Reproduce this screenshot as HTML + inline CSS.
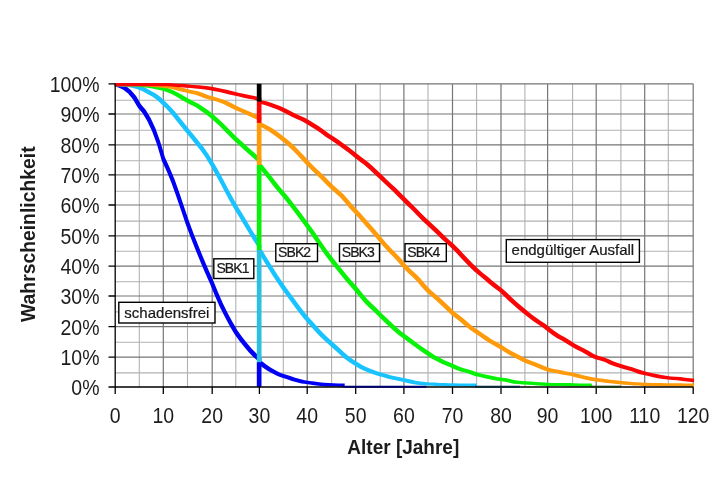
<!DOCTYPE html>
<html><head><meta charset="utf-8"><title>Wahrscheinlichkeit / Alter</title>
<style>
html,body{margin:0;padding:0;background:#fff;}
body{width:720px;height:480px;overflow:hidden;}
svg{display:block;}
svg{will-change:transform;transform:translateZ(0);}
text{font-family:"Liberation Sans",sans-serif;fill:#1c1c1c;}
</style></head><body>
<svg width="720" height="480" viewBox="0 0 720 480">
<rect width="720" height="480" fill="#fff"/>
<defs><clipPath id="cp"><rect x="114.8" y="78" width="579.3" height="314"/></clipPath></defs>
<path d="M139.3 83.8V387.0M187.5 83.8V387.0M235.8 83.8V387.0M283.3 83.8V387.0M331.6 83.8V387.0M380.2 83.8V387.0M428.0 83.8V387.0M476.6 83.8V387.0M524.9 83.8V387.0M572.6 83.8V387.0M620.9 83.8V387.0M668.3 83.8V387.0M115.2 372.9H693.3M115.2 342.3H693.3M115.2 311.9H693.3M115.2 281.8H693.3M115.2 251.2H693.3M115.2 221.1H693.3M115.2 191.2H693.3M115.2 160.8H693.3M115.2 130.3H693.3M115.2 100.2H693.3" stroke="#b2b2b2" stroke-width="1.1" fill="none"/>
<path d="M163.3 83.8V387.0M212.2 83.8V387.0M259.4 83.8V387.0M307.2 83.8V387.0M355.7 83.8V387.0M403.9 83.8V387.0M452.5 83.8V387.0M501.0 83.8V387.0M547.6 83.8V387.0M596.2 83.8V387.0M644.7 83.8V387.0M693.2 83.8V387.0M115.2 357.2H693.3M115.2 326.7H693.3M115.2 296.0H693.3M115.2 266.1H693.3M115.2 235.8H693.3M115.2 205.0H693.3M115.2 174.9H693.3M115.2 144.8H693.3M115.2 114.0H693.3M115.2 83.8H693.3" stroke="#767676" stroke-width="1.2" fill="none"/>
<path d="M113.7 83.0 116.8 83.0 121.7 84.2 121.7 87.5 118.5 87.5 113.7 86.2ZM118.5 84.2 121.7 84.2 126.5 86.5 126.5 89.7 123.3 89.7 118.5 87.5ZM123.3 86.5 126.5 86.5 131.3 90.4 131.3 93.6 128.1 93.6 123.3 89.7ZM128.1 90.4 131.3 90.4 136.1 96.0 136.1 99.2 132.9 99.2 128.1 93.6ZM132.9 96.0 136.1 96.0 140.9 104.2 140.9 107.5 137.7 107.5 132.9 99.2ZM137.7 104.2 140.9 104.2 145.8 110.0 145.8 113.2 142.6 113.2 137.7 107.5ZM142.6 110.0 145.8 110.0 150.6 118.0 150.6 121.2 147.4 121.2 142.6 113.2ZM147.4 118.0 150.6 118.0 155.4 128.3 155.4 131.5 152.2 131.5 147.4 121.2ZM152.2 128.3 155.4 128.3 160.2 141.4 160.2 144.6 157.0 144.6 152.2 131.5ZM157.0 141.4 160.2 141.4 165.0 157.5 165.0 160.7 161.8 160.7 157.0 144.6ZM161.8 157.5 165.0 157.5 169.8 167.9 169.8 171.1 166.6 171.1 161.8 160.7ZM166.6 167.9 169.8 167.9 174.7 179.8 174.7 183.0 171.5 183.0 166.6 171.1ZM171.5 179.8 174.7 179.8 179.5 193.2 179.5 196.4 176.3 196.4 171.5 183.0ZM176.3 193.2 179.5 193.2 184.3 207.4 184.3 210.6 181.1 210.6 176.3 196.4ZM181.1 207.4 184.3 207.4 189.1 221.5 189.1 224.7 185.9 224.7 181.1 210.6ZM185.9 221.5 189.1 221.5 193.9 234.4 193.9 237.6 190.7 237.6 185.9 224.7ZM190.7 234.4 193.9 234.4 198.7 246.6 198.7 249.8 195.5 249.8 190.7 237.6ZM195.5 246.6 198.7 246.6 203.6 258.6 203.6 261.8 200.4 261.8 195.5 249.8ZM200.4 258.6 203.6 258.6 208.4 269.8 208.4 273.0 205.2 273.0 200.4 261.8ZM205.2 269.8 208.4 269.8 213.2 280.5 213.2 283.7 210.0 283.7 205.2 273.0ZM210.0 280.5 213.2 280.5 218.0 292.3 218.0 295.5 214.8 295.5 210.0 283.7ZM214.8 292.3 218.0 292.3 222.8 303.2 222.8 306.4 219.6 306.4 214.8 295.5ZM219.6 303.2 222.8 303.2 227.6 312.9 227.6 316.1 224.4 316.1 219.6 306.4ZM224.4 312.9 227.6 312.9 232.5 322.1 232.5 325.3 229.3 325.3 224.4 316.1ZM229.3 322.1 232.5 322.1 237.3 330.3 237.3 333.5 234.1 333.5 229.3 325.3ZM234.1 330.3 237.3 330.3 242.1 337.0 242.1 340.2 238.9 340.2 234.1 333.5ZM238.9 337.0 242.1 337.0 246.9 343.1 246.9 346.3 243.7 346.3 238.9 340.2ZM243.7 343.1 246.9 343.1 251.7 348.7 251.7 351.9 248.5 351.9 243.7 346.3ZM248.5 348.7 251.7 348.7 256.6 353.7 256.6 356.9 253.3 356.9 248.5 351.9ZM253.3 353.7 256.6 353.7 261.4 358.0 261.4 361.2 258.2 361.2 253.3 356.9ZM258.2 360.8 261.4 360.8 266.2 364.5 266.2 367.7 263.0 367.7 258.2 364.0ZM263.0 364.5 266.2 364.5 271.0 367.7 271.0 370.9 267.8 370.9 263.0 367.7ZM267.8 367.7 271.0 367.7 275.8 370.4 275.8 373.6 272.6 373.6 267.8 370.9ZM272.6 370.4 275.8 370.4 280.6 372.9 280.6 376.1 277.4 376.1 272.6 373.6ZM277.4 372.9 280.6 372.9 285.4 374.6 285.4 377.8 282.2 377.8 277.4 376.1ZM282.2 374.6 285.4 374.6 290.3 376.0 290.3 379.2 287.1 379.2 282.2 377.8ZM287.1 376.0 290.3 376.0 295.1 377.7 295.1 380.9 291.9 380.9 287.1 379.2ZM291.9 377.7 295.1 377.7 299.9 379.1 299.9 382.3 296.7 382.3 291.9 380.9ZM296.7 379.1 299.9 379.1 304.7 380.2 304.7 383.4 301.5 383.4 296.7 382.3ZM301.5 380.2 304.7 380.2 309.5 380.9 309.5 384.1 306.3 384.1 301.5 383.4ZM306.3 380.9 309.5 380.9 314.4 381.6 314.4 384.8 311.1 384.8 306.3 384.1ZM311.1 381.6 314.4 381.6 319.2 382.2 319.2 385.4 316.0 385.4 311.1 384.8ZM316.0 382.2 319.2 382.2 324.0 382.8 324.0 386.0 320.8 386.0 316.0 385.4ZM320.8 382.8 324.0 382.8 328.8 383.1 328.8 386.4 325.6 386.4 320.8 386.0ZM325.6 383.1 328.8 383.1 333.6 383.3 333.6 386.5 330.4 386.5 325.6 386.4ZM330.4 383.3 333.6 383.3 338.4 383.4 338.4 386.6 335.2 386.6 330.4 386.5ZM335.2 383.4 338.4 383.4 343.2 383.6 343.2 386.8 340.1 386.8 335.2 386.6ZM340.1 383.6 343.2 383.6 344.7 383.6 344.7 386.9 341.5 386.9 340.1 386.8Z" fill="#0000f2" clip-path="url(#cp)"/>
<path d="M113.7 83.0 116.8 83.0 121.7 83.1 121.7 86.3 118.5 86.3 113.7 86.2ZM118.5 83.1 121.7 83.1 126.5 83.5 126.5 86.7 123.3 86.7 118.5 86.3ZM123.3 83.5 126.5 83.5 131.3 83.9 131.3 87.1 128.1 87.1 123.3 86.7ZM128.1 83.9 131.3 83.9 136.1 84.9 136.1 88.1 132.9 88.1 128.1 87.1ZM132.9 84.9 136.1 84.9 140.9 86.1 140.9 89.3 137.7 89.3 132.9 88.1ZM137.7 86.1 140.9 86.1 145.8 88.1 145.8 91.3 142.6 91.3 137.7 89.3ZM142.6 88.1 145.8 88.1 150.6 90.7 150.6 93.9 147.4 93.9 142.6 91.3ZM147.4 90.7 150.6 90.7 155.4 93.3 155.4 96.5 152.2 96.5 147.4 93.9ZM152.2 93.3 155.4 93.3 160.2 96.8 160.2 100.0 157.0 100.0 152.2 96.5ZM157.0 96.8 160.2 96.8 165.0 101.2 165.0 104.4 161.8 104.4 157.0 100.0ZM161.8 101.2 165.0 101.2 169.8 105.9 169.8 109.1 166.6 109.1 161.8 104.4ZM166.6 105.9 169.8 105.9 174.7 111.3 174.7 114.5 171.5 114.5 166.6 109.1ZM171.5 111.3 174.7 111.3 179.5 117.2 179.5 120.4 176.3 120.4 171.5 114.5ZM176.3 117.2 179.5 117.2 184.3 123.3 184.3 126.5 181.1 126.5 176.3 120.4ZM181.1 123.3 184.3 123.3 189.1 129.2 189.1 132.4 185.9 132.4 181.1 126.5ZM185.9 129.2 189.1 129.2 193.9 135.0 193.9 138.2 190.7 138.2 185.9 132.4ZM190.7 135.0 193.9 135.0 198.7 140.9 198.7 144.2 195.5 144.2 190.7 138.2ZM195.5 140.9 198.7 140.9 203.6 147.0 203.6 150.2 200.4 150.2 195.5 144.2ZM200.4 147.0 203.6 147.0 208.4 153.9 208.4 157.1 205.2 157.1 200.4 150.2ZM205.2 153.9 208.4 153.9 213.2 161.8 213.2 165.0 210.0 165.0 205.2 157.1ZM210.0 161.8 213.2 161.8 218.0 170.0 218.0 173.2 214.8 173.2 210.0 165.0ZM214.8 170.0 218.0 170.0 222.8 178.7 222.8 181.9 219.6 181.9 214.8 173.2ZM219.6 178.7 222.8 178.7 227.6 187.9 227.6 191.1 224.4 191.1 219.6 181.9ZM224.4 187.9 227.6 187.9 232.5 197.1 232.5 200.3 229.3 200.3 224.4 191.1ZM229.3 197.1 232.5 197.1 237.3 205.6 237.3 208.8 234.1 208.8 229.3 200.3ZM234.1 205.6 237.3 205.6 242.1 213.3 242.1 216.5 238.9 216.5 234.1 208.8ZM238.9 213.3 242.1 213.3 246.9 221.3 246.9 224.5 243.7 224.5 238.9 216.5ZM243.7 221.3 246.9 221.3 251.7 229.4 251.7 232.6 248.5 232.6 243.7 224.5ZM248.5 229.4 251.7 229.4 256.6 237.2 256.6 240.4 253.3 240.4 248.5 232.6ZM253.3 237.2 256.6 237.2 261.4 244.7 261.4 247.9 258.2 247.9 253.3 240.4ZM258.2 248.7 261.4 248.7 266.2 256.7 266.2 259.9 263.0 259.9 258.2 251.9ZM263.0 256.7 266.2 256.7 271.0 264.6 271.0 267.8 267.8 267.8 263.0 259.9ZM267.8 264.6 271.0 264.6 275.8 272.3 275.8 275.5 272.6 275.5 267.8 267.8ZM272.6 272.3 275.8 272.3 280.6 279.6 280.6 282.8 277.4 282.8 272.6 275.5ZM277.4 279.6 280.6 279.6 285.4 286.5 285.4 289.7 282.2 289.7 277.4 282.8ZM282.2 286.5 285.4 286.5 290.3 293.2 290.3 296.4 287.1 296.4 282.2 289.7ZM287.1 293.2 290.3 293.2 295.1 299.7 295.1 302.9 291.9 302.9 287.1 296.4ZM291.9 299.7 295.1 299.7 299.9 306.2 299.9 309.4 296.7 309.4 291.9 302.9ZM296.7 306.2 299.9 306.2 304.7 312.6 304.7 315.8 301.5 315.8 296.7 309.4ZM301.5 312.6 304.7 312.6 309.5 318.2 309.5 321.4 306.3 321.4 301.5 315.8ZM306.3 318.2 309.5 318.2 314.4 323.5 314.4 326.7 311.1 326.7 306.3 321.4ZM311.1 323.5 314.4 323.5 319.2 329.0 319.2 332.2 316.0 332.2 311.1 326.7ZM316.0 329.0 319.2 329.0 324.0 334.1 324.0 337.3 320.8 337.3 316.0 332.2ZM320.8 334.1 324.0 334.1 328.8 338.5 328.8 341.7 325.6 341.7 320.8 337.3ZM325.6 338.5 328.8 338.5 333.6 342.7 333.6 345.9 330.4 345.9 325.6 341.7ZM330.4 342.7 333.6 342.7 338.4 347.1 338.4 350.3 335.2 350.3 330.4 345.9ZM335.2 347.1 338.4 347.1 343.2 351.6 343.2 354.8 340.1 354.8 335.2 350.3ZM340.1 351.6 343.2 351.6 348.1 355.8 348.1 359.0 344.9 359.0 340.1 354.8ZM344.9 355.8 348.1 355.8 352.9 359.3 352.9 362.5 349.7 362.5 344.9 359.0ZM349.7 359.3 352.9 359.3 357.7 362.3 357.7 365.5 354.5 365.5 349.7 362.5ZM354.5 362.3 357.7 362.3 362.5 365.2 362.5 368.4 359.3 368.4 354.5 365.5ZM359.3 365.2 362.5 365.2 367.3 367.6 367.3 370.8 364.1 370.8 359.3 368.4ZM364.1 367.6 367.3 367.6 372.2 369.5 372.2 372.7 369.0 372.7 364.1 370.8ZM369.0 369.5 372.2 369.5 377.0 371.3 377.0 374.5 373.8 374.5 369.0 372.7ZM373.8 371.3 377.0 371.3 381.8 372.7 381.8 375.9 378.6 375.9 373.8 374.5ZM378.6 372.7 381.8 372.7 386.6 374.0 386.6 377.2 383.4 377.2 378.6 375.9ZM383.4 374.0 386.6 374.0 391.4 375.5 391.4 378.7 388.2 378.7 383.4 377.2ZM388.2 375.5 391.4 375.5 396.2 376.6 396.2 379.8 393.0 379.8 388.2 378.7ZM393.0 376.6 396.2 376.6 401.1 377.6 401.1 380.8 397.9 380.8 393.0 379.8ZM397.9 377.6 401.1 377.6 405.9 378.6 405.9 381.8 402.7 381.8 397.9 380.8ZM402.7 378.6 405.9 378.6 410.7 379.6 410.7 382.9 407.5 382.9 402.7 381.8ZM407.5 379.6 410.7 379.6 415.5 380.7 415.5 383.9 412.3 383.9 407.5 382.9ZM412.3 380.7 415.5 380.7 420.3 381.5 420.3 384.7 417.1 384.7 412.3 383.9ZM417.1 381.5 420.3 381.5 425.1 382.0 425.1 385.2 421.9 385.2 417.1 384.7ZM421.9 382.0 425.1 382.0 430.0 382.4 430.0 385.6 426.8 385.6 421.9 385.2ZM426.8 382.4 430.0 382.4 434.8 382.6 434.8 385.8 431.6 385.8 426.8 385.6ZM431.6 382.6 434.8 382.6 439.6 382.9 439.6 386.1 436.4 386.1 431.6 385.8ZM436.4 382.9 439.6 382.9 444.4 383.1 444.4 386.3 441.2 386.3 436.4 386.1ZM441.2 383.1 444.4 383.1 449.2 383.2 449.2 386.4 446.0 386.4 441.2 386.3ZM446.0 383.2 449.2 383.2 454.1 383.3 454.1 386.5 450.9 386.5 446.0 386.4ZM450.9 383.3 454.1 383.3 458.9 383.4 458.9 386.6 455.7 386.6 450.9 386.5ZM455.7 383.4 458.9 383.4 463.7 383.4 463.7 386.6 460.5 386.6 455.7 386.6ZM460.5 383.4 463.7 383.4 468.5 383.5 468.5 386.7 465.3 386.7 460.5 386.6ZM465.3 383.5 468.5 383.5 473.3 383.6 473.3 386.8 470.1 386.8 465.3 386.7ZM470.1 383.6 473.3 383.6 476.7 383.6 476.7 386.8 473.5 386.8 470.1 386.8Z" fill="#19c3ff" clip-path="url(#cp)"/>
<path d="M113.7 83.0 116.8 83.0 121.7 83.0 121.7 86.2 118.5 86.2 113.7 86.2ZM118.5 83.0 121.7 83.0 126.5 83.1 126.5 86.3 123.3 86.3 118.5 86.2ZM123.3 83.1 126.5 83.1 131.3 83.2 131.3 86.5 128.1 86.5 123.3 86.3ZM128.1 83.2 131.3 83.2 136.1 83.4 136.1 86.6 132.9 86.6 128.1 86.5ZM132.9 83.4 136.1 83.4 140.9 83.6 140.9 86.8 137.7 86.8 132.9 86.6ZM137.7 83.6 140.9 83.6 145.8 84.0 145.8 87.2 142.6 87.2 137.7 86.8ZM142.6 84.0 145.8 84.0 150.6 84.6 150.6 87.8 147.4 87.8 142.6 87.2ZM147.4 84.6 150.6 84.6 155.4 85.4 155.4 88.6 152.2 88.6 147.4 87.8ZM152.2 85.4 155.4 85.4 160.2 86.3 160.2 89.5 157.0 89.5 152.2 88.6ZM157.0 86.3 160.2 86.3 165.0 87.3 165.0 90.5 161.8 90.5 157.0 89.5ZM161.8 87.3 165.0 87.3 169.8 88.8 169.8 92.0 166.6 92.0 161.8 90.5ZM166.6 88.8 169.8 88.8 174.7 90.9 174.7 94.1 171.5 94.1 166.6 92.0ZM171.5 90.9 174.7 90.9 179.5 93.4 179.5 96.6 176.3 96.6 171.5 94.1ZM176.3 93.4 179.5 93.4 184.3 96.2 184.3 99.4 181.1 99.4 176.3 96.6ZM181.1 96.2 184.3 96.2 189.1 99.1 189.1 102.3 185.9 102.3 181.1 99.4ZM185.9 99.1 189.1 99.1 193.9 101.5 193.9 104.7 190.7 104.7 185.9 102.3ZM190.7 101.5 193.9 101.5 198.7 103.9 198.7 107.1 195.5 107.1 190.7 104.7ZM195.5 103.9 198.7 103.9 203.6 107.2 203.6 110.4 200.4 110.4 195.5 107.1ZM200.4 107.2 203.6 107.2 208.4 110.5 208.4 113.7 205.2 113.7 200.4 110.4ZM205.2 110.5 208.4 110.5 213.2 114.3 213.2 117.5 210.0 117.5 205.2 113.7ZM210.0 114.3 213.2 114.3 218.0 118.5 218.0 121.7 214.8 121.7 210.0 117.5ZM214.8 118.5 218.0 118.5 222.8 122.9 222.8 126.1 219.6 126.1 214.8 121.7ZM219.6 122.9 222.8 122.9 227.6 127.7 227.6 130.9 224.4 130.9 219.6 126.1ZM224.4 127.7 227.6 127.7 232.5 132.8 232.5 136.0 229.3 136.0 224.4 130.9ZM229.3 132.8 232.5 132.8 237.3 137.5 237.3 140.7 234.1 140.7 229.3 136.0ZM234.1 137.5 237.3 137.5 242.1 141.8 242.1 145.0 238.9 145.0 234.1 140.7ZM238.9 141.8 242.1 141.8 246.9 146.2 246.9 149.4 243.7 149.4 238.9 145.0ZM243.7 146.2 246.9 146.2 251.7 150.4 251.7 153.7 248.5 153.7 243.7 149.4ZM248.5 150.4 251.7 150.4 256.6 154.7 256.6 157.9 253.3 157.9 248.5 153.7ZM253.3 154.7 256.6 154.7 261.4 159.3 261.4 162.5 258.2 162.5 253.3 157.9ZM258.2 163.8 261.4 163.8 266.2 169.5 266.2 172.7 263.0 172.7 258.2 167.0ZM263.0 169.5 266.2 169.5 271.0 175.5 271.0 178.7 267.8 178.7 263.0 172.7ZM267.8 175.5 271.0 175.5 275.8 181.8 275.8 184.9 272.6 184.9 267.8 178.7ZM272.6 181.8 275.8 181.8 280.6 187.7 280.6 190.9 277.4 190.9 272.6 184.9ZM277.4 187.7 280.6 187.7 285.4 193.2 285.4 196.4 282.2 196.4 277.4 190.9ZM282.2 193.2 285.4 193.2 290.3 199.3 290.3 202.5 287.1 202.5 282.2 196.4ZM287.1 199.3 290.3 199.3 295.1 205.6 295.1 208.8 291.9 208.8 287.1 202.5ZM291.9 205.6 295.1 205.6 299.9 211.8 299.9 215.1 296.7 215.1 291.9 208.8ZM296.7 211.8 299.9 211.8 304.7 218.3 304.7 221.5 301.5 221.5 296.7 215.1ZM301.5 218.3 304.7 218.3 309.5 224.7 309.5 227.9 306.3 227.9 301.5 221.5ZM306.3 224.7 309.5 224.7 314.4 231.5 314.4 234.7 311.1 234.7 306.3 227.9ZM311.1 231.5 314.4 231.5 319.2 238.7 319.2 241.9 316.0 241.9 311.1 234.7ZM316.0 238.7 319.2 238.7 324.0 245.8 324.0 248.9 320.8 248.9 316.0 241.9ZM320.8 245.8 324.0 245.8 328.8 252.4 328.8 255.7 325.6 255.7 320.8 248.9ZM325.6 252.4 328.8 252.4 333.6 258.7 333.6 261.9 330.4 261.9 325.6 255.7ZM330.4 258.7 333.6 258.7 338.4 264.8 338.4 268.0 335.2 268.0 330.4 261.9ZM335.2 264.8 338.4 264.8 343.2 270.8 343.2 274.0 340.1 274.0 335.2 268.0ZM340.1 270.8 343.2 270.8 348.1 276.7 348.1 279.9 344.9 279.9 340.1 274.0ZM344.9 276.7 348.1 276.7 352.9 282.3 352.9 285.5 349.7 285.5 344.9 279.9ZM349.7 282.3 352.9 282.3 357.7 287.6 357.7 290.9 354.5 290.9 349.7 285.5ZM354.5 287.6 357.7 287.6 362.5 293.6 362.5 296.8 359.3 296.8 354.5 290.9ZM359.3 293.6 362.5 293.6 367.3 299.3 367.3 302.5 364.1 302.5 359.3 296.8ZM364.1 299.3 367.3 299.3 372.2 304.1 372.2 307.4 369.0 307.4 364.1 302.5ZM369.0 304.1 372.2 304.1 377.0 308.6 377.0 311.8 373.8 311.8 369.0 307.4ZM373.8 308.6 377.0 308.6 381.8 313.4 381.8 316.6 378.6 316.6 373.8 311.8ZM378.6 313.4 381.8 313.4 386.6 318.1 386.6 321.3 383.4 321.3 378.6 316.6ZM383.4 318.1 386.6 318.1 391.4 322.6 391.4 325.8 388.2 325.8 383.4 321.3ZM388.2 322.6 391.4 322.6 396.2 327.1 396.2 330.2 393.0 330.2 388.2 325.8ZM393.0 327.1 396.2 327.1 401.1 331.3 401.1 334.5 397.9 334.5 393.0 330.2ZM397.9 331.3 401.1 331.3 405.9 334.8 405.9 338.0 402.7 338.0 397.9 334.5ZM402.7 334.8 405.9 334.8 410.7 338.2 410.7 341.4 407.5 341.4 402.7 338.0ZM407.5 338.2 410.7 338.2 415.5 341.9 415.5 345.1 412.3 345.1 407.5 341.4ZM412.3 341.9 415.5 341.9 420.3 345.4 420.3 348.6 417.1 348.6 412.3 345.1ZM417.1 345.4 420.3 345.4 425.1 348.8 425.1 352.0 421.9 352.0 417.1 348.6ZM421.9 348.8 425.1 348.8 430.0 352.1 430.0 355.3 426.8 355.3 421.9 352.0ZM426.8 352.1 430.0 352.1 434.8 355.2 434.8 358.4 431.6 358.4 426.8 355.3ZM431.6 355.2 434.8 355.2 439.6 357.8 439.6 361.0 436.4 361.0 431.6 358.4ZM436.4 357.8 439.6 357.8 444.4 360.2 444.4 363.4 441.2 363.4 436.4 361.0ZM441.2 360.2 444.4 360.2 449.2 362.3 449.2 365.5 446.0 365.5 441.2 363.4ZM446.0 362.3 449.2 362.3 454.1 364.3 454.1 367.5 450.9 367.5 446.0 365.5ZM450.9 364.3 454.1 364.3 458.9 366.5 458.9 369.7 455.7 369.7 450.9 367.5ZM455.7 366.5 458.9 366.5 463.7 368.3 463.7 371.5 460.5 371.5 455.7 369.7ZM460.5 368.3 463.7 368.3 468.5 369.4 468.5 372.6 465.3 372.6 460.5 371.5ZM465.3 369.4 468.5 369.4 473.3 371.0 473.3 374.2 470.1 374.2 465.3 372.6ZM470.1 371.0 473.3 371.0 478.1 372.7 478.1 375.9 474.9 375.9 470.1 374.2ZM474.9 372.7 478.1 372.7 482.9 373.9 482.9 377.1 479.8 377.1 474.9 375.9ZM479.8 373.9 482.9 373.9 487.8 375.0 487.8 378.2 484.6 378.2 479.8 377.1ZM484.6 375.0 487.8 375.0 492.6 376.1 492.6 379.3 489.4 379.3 484.6 378.2ZM489.4 376.1 492.6 376.1 497.4 377.1 497.4 380.3 494.2 380.3 489.4 379.3ZM494.2 377.1 497.4 377.1 502.2 377.8 502.2 381.0 499.0 381.0 494.2 380.3ZM499.0 377.8 502.2 377.8 507.0 378.3 507.0 381.5 503.8 381.5 499.0 381.0ZM503.8 378.3 507.0 378.3 511.9 379.4 511.9 382.6 508.6 382.6 503.8 381.5ZM508.6 379.4 511.9 379.4 516.7 380.5 516.7 383.7 513.5 383.7 508.6 382.6ZM513.5 380.5 516.7 380.5 521.5 380.9 521.5 384.1 518.3 384.1 513.5 383.7ZM518.3 380.9 521.5 380.9 526.3 381.2 526.3 384.4 523.1 384.4 518.3 384.1ZM523.1 381.2 526.3 381.2 531.1 381.6 531.1 384.8 527.9 384.8 523.1 384.4ZM527.9 381.6 531.1 381.6 535.9 381.9 535.9 385.1 532.7 385.1 527.9 384.8ZM532.7 381.9 535.9 381.9 540.8 382.2 540.8 385.4 537.5 385.4 532.7 385.1ZM537.5 382.2 540.8 382.2 545.6 382.6 545.6 385.8 542.4 385.8 537.5 385.4ZM542.4 382.6 545.6 382.6 550.4 382.9 550.4 386.1 547.2 386.1 542.4 385.8ZM547.2 382.9 550.4 382.9 555.2 382.9 555.2 386.1 552.0 386.1 547.2 386.1ZM552.0 382.9 556.8 382.9 560.0 382.9 560.0 386.1 555.2 386.1 552.0 386.1ZM556.8 382.9 560.0 382.9 564.8 382.9 564.8 386.1 561.6 386.1 556.8 386.1ZM561.6 382.9 564.8 382.9 569.7 383.0 569.7 386.2 566.5 386.2 561.6 386.1ZM566.5 383.0 569.7 383.0 574.5 383.2 574.5 386.4 571.3 386.4 566.5 386.2ZM571.3 383.2 574.5 383.2 579.3 383.4 579.3 386.6 576.1 386.6 571.3 386.4ZM576.1 383.4 579.3 383.4 584.1 383.5 584.1 386.7 580.9 386.7 576.1 386.6ZM580.9 383.5 584.1 383.5 588.9 383.5 588.9 386.7 585.7 386.7 580.9 386.7ZM585.7 383.5 591.8 383.5 591.8 386.7 585.7 386.7Z" fill="#08f208" clip-path="url(#cp)"/>
<path d="M113.7 83.0 121.7 83.0 121.7 86.2 113.7 86.2ZM118.5 83.0 126.5 83.0 126.5 86.2 118.5 86.2ZM123.3 83.0 131.3 83.0 131.3 86.2 123.3 86.2ZM128.1 83.0 136.1 83.0 136.1 86.2 128.1 86.2ZM132.9 83.0 140.9 83.0 140.9 86.2 132.9 86.2ZM137.7 83.0 140.9 83.0 145.8 83.1 145.8 86.3 142.6 86.3 137.7 86.2ZM142.6 83.1 145.8 83.1 150.6 83.3 150.6 86.5 147.4 86.5 142.6 86.3ZM147.4 83.3 150.6 83.3 155.4 83.7 155.4 86.9 152.2 86.9 147.4 86.5ZM152.2 83.7 155.4 83.7 160.2 84.1 160.2 87.3 157.0 87.3 152.2 86.9ZM157.0 84.1 160.2 84.1 165.0 84.5 165.0 87.7 161.8 87.7 157.0 87.3ZM161.8 84.5 165.0 84.5 169.8 85.0 169.8 88.2 166.6 88.2 161.8 87.7ZM166.6 85.0 169.8 85.0 174.7 85.9 174.7 89.1 171.5 89.1 166.6 88.2ZM171.5 85.9 174.7 85.9 179.5 87.1 179.5 90.3 176.3 90.3 171.5 89.1ZM176.3 87.1 179.5 87.1 184.3 88.2 184.3 91.4 181.1 91.4 176.3 90.3ZM181.1 88.2 184.3 88.2 189.1 89.4 189.1 92.6 185.9 92.6 181.1 91.4ZM185.9 89.4 189.1 89.4 193.9 90.5 193.9 93.7 190.7 93.7 185.9 92.6ZM190.7 90.5 193.9 90.5 198.7 91.5 198.7 94.7 195.5 94.7 190.7 93.7ZM195.5 91.5 198.7 91.5 203.6 93.3 203.6 96.5 200.4 96.5 195.5 94.7ZM200.4 93.3 203.6 93.3 208.4 95.2 208.4 98.4 205.2 98.4 200.4 96.5ZM205.2 95.2 208.4 95.2 213.2 96.6 213.2 99.8 210.0 99.8 205.2 98.4ZM210.0 96.6 213.2 96.6 218.0 97.9 218.0 101.1 214.8 101.1 210.0 99.8ZM214.8 97.9 218.0 97.9 222.8 99.4 222.8 102.6 219.6 102.6 214.8 101.1ZM219.6 99.4 222.8 99.4 227.6 101.3 227.6 104.5 224.4 104.5 219.6 102.6ZM224.4 101.3 227.6 101.3 232.5 103.7 232.5 106.9 229.3 106.9 224.4 104.5ZM229.3 103.7 232.5 103.7 237.3 106.3 237.3 109.5 234.1 109.5 229.3 106.9ZM234.1 106.3 237.3 106.3 242.1 108.4 242.1 111.6 238.9 111.6 234.1 109.5ZM238.9 108.4 242.1 108.4 246.9 110.4 246.9 113.6 243.7 113.6 238.9 111.6ZM243.7 110.4 246.9 110.4 251.7 112.6 251.7 115.8 248.5 115.8 243.7 113.6ZM248.5 112.6 251.7 112.6 256.6 114.7 256.6 117.9 253.3 117.9 248.5 115.8ZM253.3 114.7 256.6 114.7 261.4 117.0 261.4 120.2 258.2 120.2 253.3 117.9ZM258.2 122.6 261.4 122.6 266.2 124.9 266.2 128.1 263.0 128.1 258.2 125.8ZM263.0 124.9 266.2 124.9 271.0 127.6 271.0 130.8 267.8 130.8 263.0 128.1ZM267.8 127.6 271.0 127.6 275.8 130.8 275.8 134.0 272.6 134.0 267.8 130.8ZM272.6 130.8 275.8 130.8 280.6 134.3 280.6 137.5 277.4 137.5 272.6 134.0ZM277.4 134.3 280.6 134.3 285.4 138.1 285.4 141.3 282.2 141.3 277.4 137.5ZM282.2 138.1 285.4 138.1 290.3 142.0 290.3 145.2 287.1 145.2 282.2 141.3ZM287.1 142.0 290.3 142.0 295.1 146.5 295.1 149.7 291.9 149.7 287.1 145.2ZM291.9 146.5 295.1 146.5 299.9 151.4 299.9 154.6 296.7 154.6 291.9 149.7ZM296.7 151.4 299.9 151.4 304.7 156.4 304.7 159.7 301.5 159.7 296.7 154.6ZM301.5 156.4 304.7 156.4 309.5 161.8 309.5 165.0 306.3 165.0 301.5 159.7ZM306.3 161.8 309.5 161.8 314.4 166.7 314.4 169.8 311.1 169.8 306.3 165.0ZM311.1 166.7 314.4 166.7 319.2 171.2 319.2 174.4 316.0 174.4 311.1 169.8ZM316.0 171.2 319.2 171.2 324.0 175.8 324.0 179.0 320.8 179.0 316.0 174.4ZM320.8 175.8 324.0 175.8 328.8 180.7 328.8 183.9 325.6 183.9 320.8 179.0ZM325.6 180.7 328.8 180.7 333.6 185.5 333.6 188.7 330.4 188.7 325.6 183.9ZM330.4 185.5 333.6 185.5 338.4 189.8 338.4 193.0 335.2 193.0 330.4 188.7ZM335.2 189.8 338.4 189.8 343.2 194.1 343.2 197.3 340.1 197.3 335.2 193.0ZM340.1 194.1 343.2 194.1 348.1 199.6 348.1 202.8 344.9 202.8 340.1 197.3ZM344.9 199.6 348.1 199.6 352.9 205.3 352.9 208.5 349.7 208.5 344.9 202.8ZM349.7 205.3 352.9 205.3 357.7 210.3 357.7 213.5 354.5 213.5 349.7 208.5ZM354.5 210.3 357.7 210.3 362.5 215.6 362.5 218.8 359.3 218.8 354.5 213.5ZM359.3 215.6 362.5 215.6 367.3 221.0 367.3 224.2 364.1 224.2 359.3 218.8ZM364.1 221.0 367.3 221.0 372.2 226.5 372.2 229.7 369.0 229.7 364.1 224.2ZM369.0 226.5 372.2 226.5 377.0 232.1 377.0 235.3 373.8 235.3 369.0 229.7ZM373.8 232.1 377.0 232.1 381.8 237.7 381.8 240.9 378.6 240.9 373.8 235.3ZM378.6 237.7 381.8 237.7 386.6 243.4 386.6 246.6 383.4 246.6 378.6 240.9ZM383.4 243.4 386.6 243.4 391.4 248.6 391.4 251.8 388.2 251.8 383.4 246.6ZM388.2 248.6 391.4 248.6 396.2 253.4 396.2 256.6 393.0 256.6 388.2 251.8ZM393.0 253.4 396.2 253.4 401.1 258.6 401.1 261.8 397.9 261.8 393.0 256.6ZM397.9 258.6 401.1 258.6 405.9 264.2 405.9 267.4 402.7 267.4 397.9 261.8ZM402.7 264.2 405.9 264.2 410.7 269.2 410.7 272.4 407.5 272.4 402.7 267.4ZM407.5 269.2 410.7 269.2 415.5 273.5 415.5 276.7 412.3 276.7 407.5 272.4ZM412.3 273.5 415.5 273.5 420.3 278.3 420.3 281.5 417.1 281.5 412.3 276.7ZM417.1 278.3 420.3 278.3 425.1 284.0 425.1 287.2 421.9 287.2 417.1 281.5ZM421.9 284.0 425.1 284.0 430.0 289.2 430.0 292.4 426.8 292.4 421.9 287.2ZM426.8 289.2 430.0 289.2 434.8 293.4 434.8 296.6 431.6 296.6 426.8 292.4ZM431.6 293.4 434.8 293.4 439.6 297.5 439.6 300.7 436.4 300.7 431.6 296.6ZM436.4 297.5 439.6 297.5 444.4 302.0 444.4 305.2 441.2 305.2 436.4 300.7ZM441.2 302.0 444.4 302.0 449.2 306.6 449.2 309.8 446.0 309.8 441.2 305.2ZM446.0 306.6 449.2 306.6 454.1 311.2 454.1 314.4 450.9 314.4 446.0 309.8ZM450.9 311.2 454.1 311.2 458.9 315.1 458.9 318.3 455.7 318.3 450.9 314.4ZM455.7 315.1 458.9 315.1 463.7 318.8 463.7 322.0 460.5 322.0 455.7 318.3ZM460.5 318.8 463.7 318.8 468.5 323.1 468.5 326.3 465.3 326.3 460.5 322.0ZM465.3 323.1 468.5 323.1 473.3 326.9 473.3 330.1 470.1 330.1 465.3 326.3ZM470.1 326.9 473.3 326.9 478.1 330.0 478.1 333.2 474.9 333.2 470.1 330.1ZM474.9 330.0 478.1 330.0 482.9 333.4 482.9 336.6 479.8 336.6 474.9 333.2ZM479.8 333.4 482.9 333.4 487.8 336.8 487.8 340.0 484.6 340.0 479.8 336.6ZM484.6 336.8 487.8 336.8 492.6 339.9 492.6 343.1 489.4 343.1 484.6 340.0ZM489.4 339.9 492.6 339.9 497.4 342.6 497.4 345.8 494.2 345.8 489.4 343.1ZM494.2 342.6 497.4 342.6 502.2 345.3 502.2 348.5 499.0 348.5 494.2 345.8ZM499.0 345.3 502.2 345.3 507.0 348.4 507.0 351.6 503.8 351.6 499.0 348.5ZM503.8 348.4 507.0 348.4 511.9 351.3 511.9 354.5 508.6 354.5 503.8 351.6ZM508.6 351.3 511.9 351.3 516.7 353.8 516.7 356.9 513.5 356.9 508.6 354.5ZM513.5 353.8 516.7 353.8 521.5 356.3 521.5 359.5 518.3 359.5 513.5 356.9ZM518.3 356.3 521.5 356.3 526.3 358.7 526.3 361.9 523.1 361.9 518.3 359.5ZM523.1 358.7 526.3 358.7 531.1 360.7 531.1 363.9 527.9 363.9 523.1 361.9ZM527.9 360.7 531.1 360.7 535.9 362.5 535.9 365.7 532.7 365.7 527.9 363.9ZM532.7 362.5 535.9 362.5 540.8 364.5 540.8 367.7 537.5 367.7 532.7 365.7ZM537.5 364.5 540.8 364.5 545.6 366.6 545.6 369.8 542.4 369.8 537.5 367.7ZM542.4 366.6 545.6 366.6 550.4 368.3 550.4 371.5 547.2 371.5 542.4 369.8ZM547.2 368.3 550.4 368.3 555.2 369.2 555.2 372.4 552.0 372.4 547.2 371.5ZM552.0 369.2 555.2 369.2 560.0 370.1 560.0 373.3 556.8 373.3 552.0 372.4ZM556.8 370.1 560.0 370.1 564.8 371.3 564.8 374.5 561.6 374.5 556.8 373.3ZM561.6 371.3 564.8 371.3 569.7 372.1 569.7 375.2 566.5 375.2 561.6 374.5ZM566.5 372.1 569.7 372.1 574.5 372.9 574.5 376.1 571.3 376.1 566.5 375.2ZM571.3 372.9 574.5 372.9 579.3 374.2 579.3 377.4 576.1 377.4 571.3 376.1ZM576.1 374.2 579.3 374.2 584.1 375.4 584.1 378.6 580.9 378.6 576.1 377.4ZM580.9 375.4 584.1 375.4 588.9 376.6 588.9 379.8 585.7 379.8 580.9 378.6ZM585.7 376.6 588.9 376.6 593.7 377.6 593.7 380.8 590.5 380.8 585.7 379.8ZM590.5 377.6 593.7 377.6 598.6 378.2 598.6 381.4 595.4 381.4 590.5 380.8ZM595.4 378.2 598.6 378.2 603.4 378.8 603.4 382.0 600.2 382.0 595.4 381.4ZM600.2 378.8 603.4 378.8 608.2 379.6 608.2 382.8 605.0 382.8 600.2 382.0ZM605.0 379.6 608.2 379.6 613.0 380.1 613.0 383.3 609.8 383.3 605.0 382.8ZM609.8 380.1 613.0 380.1 617.8 380.5 617.8 383.7 614.6 383.7 609.8 383.3ZM614.6 380.5 617.8 380.5 622.6 381.1 622.6 384.3 619.4 384.3 614.6 383.7ZM619.4 381.1 622.6 381.1 627.5 381.6 627.5 384.8 624.3 384.8 619.4 384.3ZM624.3 381.6 627.5 381.6 632.3 381.9 632.3 385.1 629.1 385.1 624.3 384.8ZM629.1 381.9 632.3 381.9 637.1 382.2 637.1 385.4 633.9 385.4 629.1 385.1ZM633.9 382.2 637.1 382.2 641.9 382.4 641.9 385.6 638.7 385.6 633.9 385.4ZM638.7 382.4 641.9 382.4 646.7 382.7 646.7 385.9 643.5 385.9 638.7 385.6ZM643.5 382.7 646.7 382.7 651.5 382.9 651.5 386.1 648.4 386.1 643.5 385.9ZM648.4 382.9 651.5 382.9 656.4 383.0 656.4 386.2 653.2 386.2 648.4 386.1ZM653.2 383.0 656.4 383.0 661.2 383.1 661.2 386.2 658.0 386.2 653.2 386.2ZM658.0 383.1 661.2 383.1 666.0 383.2 666.0 386.4 662.8 386.4 658.0 386.2ZM662.8 383.2 666.0 383.2 670.8 383.2 670.8 386.4 667.6 386.4 662.8 386.4ZM667.6 383.2 672.4 383.2 675.6 383.2 675.6 386.4 670.8 386.4 667.6 386.4ZM672.4 383.2 675.6 383.2 680.5 383.3 680.5 386.5 677.2 386.5 672.4 386.4ZM677.2 383.3 680.5 383.3 685.3 383.5 685.3 386.7 682.1 386.7 677.2 386.5ZM682.1 383.5 685.3 383.5 690.1 383.6 690.1 386.8 686.9 386.8 682.1 386.7ZM686.9 383.6 690.1 383.6 694.9 383.6 694.9 386.8 691.7 386.8 686.9 386.8Z" fill="#ff9a0a" clip-path="url(#cp)"/>
<path d="M113.7 83.0 121.7 83.0 121.7 86.2 113.7 86.2ZM118.5 83.0 126.5 83.0 126.5 86.2 118.5 86.2ZM123.3 83.0 131.3 83.0 131.3 86.2 123.3 86.2ZM128.1 83.0 136.1 83.0 136.1 86.2 128.1 86.2ZM132.9 83.0 140.9 83.0 140.9 86.2 132.9 86.2ZM137.7 83.0 145.8 83.0 145.8 86.2 137.7 86.2ZM142.6 83.0 150.6 83.0 150.6 86.2 142.6 86.2ZM147.4 83.0 155.4 83.0 155.4 86.2 147.4 86.2ZM152.2 83.0 160.2 83.0 160.2 86.2 152.2 86.2ZM157.0 83.0 165.0 83.0 165.0 86.2 157.0 86.2ZM161.8 83.0 165.0 83.0 169.8 83.1 169.8 86.3 166.6 86.3 161.8 86.2ZM166.6 83.1 169.8 83.1 174.7 83.4 174.7 86.6 171.5 86.6 166.6 86.3ZM171.5 83.4 174.7 83.4 179.5 83.7 179.5 86.9 176.3 86.9 171.5 86.6ZM176.3 83.7 179.5 83.7 184.3 84.1 184.3 87.3 181.1 87.3 176.3 86.9ZM181.1 84.1 184.3 84.1 189.1 84.5 189.1 87.7 185.9 87.7 181.1 87.3ZM185.9 84.5 189.1 84.5 193.9 84.9 193.9 88.1 190.7 88.1 185.9 87.7ZM190.7 84.9 193.9 84.9 198.7 85.2 198.7 88.4 195.5 88.4 190.7 88.1ZM195.5 85.2 198.7 85.2 203.6 85.7 203.6 88.9 200.4 88.9 195.5 88.4ZM200.4 85.7 203.6 85.7 208.4 86.3 208.4 89.5 205.2 89.5 200.4 88.9ZM205.2 86.3 208.4 86.3 213.2 87.0 213.2 90.2 210.0 90.2 205.2 89.5ZM210.0 87.0 213.2 87.0 218.0 88.0 218.0 91.2 214.8 91.2 210.0 90.2ZM214.8 88.0 218.0 88.0 222.8 88.9 222.8 92.1 219.6 92.1 214.8 91.2ZM219.6 88.9 222.8 88.9 227.6 90.0 227.6 93.2 224.4 93.2 219.6 92.1ZM224.4 90.0 227.6 90.0 232.5 91.3 232.5 94.5 229.3 94.5 224.4 93.2ZM229.3 91.3 232.5 91.3 237.3 92.4 237.3 95.6 234.1 95.6 229.3 94.5ZM234.1 92.4 237.3 92.4 242.1 93.4 242.1 96.6 238.9 96.6 234.1 95.6ZM238.9 93.4 242.1 93.4 246.9 94.5 246.9 97.7 243.7 97.7 238.9 96.6ZM243.7 94.5 246.9 94.5 251.7 95.5 251.7 98.7 248.5 98.7 243.7 97.7ZM248.5 95.5 251.7 95.5 256.6 96.4 256.6 99.6 253.3 99.6 248.5 98.7ZM253.3 96.4 256.6 96.4 261.4 97.8 261.4 101.0 258.2 101.0 253.3 99.6ZM258.2 100.3 261.4 100.3 266.2 101.3 266.2 104.5 263.0 104.5 258.2 103.5ZM263.0 101.3 266.2 101.3 271.0 102.7 271.0 105.9 267.8 105.9 263.0 104.5ZM267.8 102.7 271.0 102.7 275.8 104.5 275.8 107.7 272.6 107.7 267.8 105.9ZM272.6 104.5 275.8 104.5 280.6 106.3 280.6 109.5 277.4 109.5 272.6 107.7ZM277.4 106.3 280.6 106.3 285.4 108.5 285.4 111.7 282.2 111.7 277.4 109.5ZM282.2 108.5 285.4 108.5 290.3 111.1 290.3 114.3 287.1 114.3 282.2 111.7ZM287.1 111.1 290.3 111.1 295.1 113.6 295.1 116.8 291.9 116.8 287.1 114.3ZM291.9 113.6 295.1 113.6 299.9 115.8 299.9 119.0 296.7 119.0 291.9 116.8ZM296.7 115.8 299.9 115.8 304.7 117.8 304.7 121.0 301.5 121.0 296.7 119.0ZM301.5 117.8 304.7 117.8 309.5 120.5 309.5 123.7 306.3 123.7 301.5 121.0ZM306.3 120.5 309.5 120.5 314.4 123.6 314.4 126.8 311.1 126.8 306.3 123.7ZM311.1 123.6 314.4 123.6 319.2 126.5 319.2 129.7 316.0 129.7 311.1 126.8ZM316.0 126.5 319.2 126.5 324.0 129.9 324.0 133.1 320.8 133.1 316.0 129.7ZM320.8 129.9 324.0 129.9 328.8 133.6 328.8 136.8 325.6 136.8 320.8 133.1ZM325.6 133.6 328.8 133.6 333.6 136.6 333.6 139.8 330.4 139.8 325.6 136.8ZM330.4 136.6 333.6 136.6 338.4 139.7 338.4 142.9 335.2 142.9 330.4 139.8ZM335.2 139.7 338.4 139.7 343.2 143.2 343.2 146.4 340.1 146.4 335.2 142.9ZM340.1 143.2 343.2 143.2 348.1 146.8 348.1 150.0 344.9 150.0 340.1 146.4ZM344.9 146.8 348.1 146.8 352.9 150.4 352.9 153.6 349.7 153.6 344.9 150.0ZM349.7 150.4 352.9 150.4 357.7 154.3 357.7 157.5 354.5 157.5 349.7 153.6ZM354.5 154.3 357.7 154.3 362.5 158.1 362.5 161.3 359.3 161.3 354.5 157.5ZM359.3 158.1 362.5 158.1 367.3 161.5 367.3 164.7 364.1 164.7 359.3 161.3ZM364.1 161.5 367.3 161.5 372.2 165.7 372.2 168.9 369.0 168.9 364.1 164.7ZM369.0 165.7 372.2 165.7 377.0 170.3 377.0 173.6 373.8 173.6 369.0 168.9ZM373.8 170.3 377.0 170.3 381.8 174.8 381.8 178.0 378.6 178.0 373.8 173.6ZM378.6 174.8 381.8 174.8 386.6 179.4 386.6 182.6 383.4 182.6 378.6 178.0ZM383.4 179.4 386.6 179.4 391.4 183.9 391.4 187.1 388.2 187.1 383.4 182.6ZM388.2 183.9 391.4 183.9 396.2 188.3 396.2 191.5 393.0 191.5 388.2 187.1ZM393.0 188.3 396.2 188.3 401.1 193.2 401.1 196.4 397.9 196.4 393.0 191.5ZM397.9 193.2 401.1 193.2 405.9 198.1 405.9 201.3 402.7 201.3 397.9 196.4ZM402.7 198.1 405.9 198.1 410.7 202.7 410.7 205.9 407.5 205.9 402.7 201.3ZM407.5 202.7 410.7 202.7 415.5 207.4 415.5 210.6 412.3 210.6 407.5 205.9ZM412.3 207.4 415.5 207.4 420.3 212.4 420.3 215.6 417.1 215.6 412.3 210.6ZM417.1 212.4 420.3 212.4 425.1 217.2 425.1 220.4 421.9 220.4 417.1 215.6ZM421.9 217.2 425.1 217.2 430.0 221.8 430.0 225.0 426.8 225.0 421.9 220.4ZM426.8 221.8 430.0 221.8 434.8 226.2 434.8 229.4 431.6 229.4 426.8 225.0ZM431.6 226.2 434.8 226.2 439.6 230.8 439.6 234.0 436.4 234.0 431.6 229.4ZM436.4 230.8 439.6 230.8 444.4 235.5 444.4 238.7 441.2 238.7 436.4 234.0ZM441.2 235.5 444.4 235.5 449.2 239.9 449.2 243.1 446.0 243.1 441.2 238.7ZM446.0 239.9 449.2 239.9 454.1 244.2 454.1 247.4 450.9 247.4 446.0 243.1ZM450.9 244.2 454.1 244.2 458.9 249.1 458.9 252.2 455.7 252.2 450.9 247.4ZM455.7 249.1 458.9 249.1 463.7 254.2 463.7 257.4 460.5 257.4 455.7 252.2ZM460.5 254.2 463.7 254.2 468.5 259.2 468.5 262.4 465.3 262.4 460.5 257.4ZM465.3 259.2 468.5 259.2 473.3 264.2 473.3 267.4 470.1 267.4 465.3 262.4ZM470.1 264.2 473.3 264.2 478.1 268.8 478.1 271.9 474.9 271.9 470.1 267.4ZM474.9 268.8 478.1 268.8 482.9 272.9 482.9 276.1 479.8 276.1 474.9 271.9ZM479.8 272.9 482.9 272.9 487.8 276.8 487.8 280.0 484.6 280.0 479.8 276.1ZM484.6 276.8 487.8 276.8 492.6 281.0 492.6 284.2 489.4 284.2 484.6 280.0ZM489.4 281.0 492.6 281.0 497.4 284.8 497.4 288.0 494.2 288.0 489.4 284.2ZM494.2 284.8 497.4 284.8 502.2 288.4 502.2 291.6 499.0 291.6 494.2 288.0ZM499.0 288.4 502.2 288.4 507.0 292.8 507.0 296.0 503.8 296.0 499.0 291.6ZM503.8 292.8 507.0 292.8 511.9 297.5 511.9 300.7 508.6 300.7 503.8 296.0ZM508.6 297.5 511.9 297.5 516.7 301.9 516.7 305.1 513.5 305.1 508.6 300.7ZM513.5 301.9 516.7 301.9 521.5 306.1 521.5 309.3 518.3 309.3 513.5 305.1ZM518.3 306.1 521.5 306.1 526.3 310.1 526.3 313.3 523.1 313.3 518.3 309.3ZM523.1 310.1 526.3 310.1 531.1 313.9 531.1 317.1 527.9 317.1 523.1 313.3ZM527.9 313.9 531.1 313.9 535.9 317.6 535.9 320.8 532.7 320.8 527.9 317.1ZM532.7 317.6 535.9 317.6 540.8 320.9 540.8 324.1 537.5 324.1 532.7 320.8ZM537.5 320.9 540.8 320.9 545.6 324.1 545.6 327.3 542.4 327.3 537.5 324.1ZM542.4 324.1 545.6 324.1 550.4 327.9 550.4 331.1 547.2 331.1 542.4 327.3ZM547.2 327.9 550.4 327.9 555.2 331.6 555.2 334.8 552.0 334.8 547.2 331.1ZM552.0 331.6 555.2 331.6 560.0 334.7 560.0 337.9 556.8 337.9 552.0 334.8ZM556.8 334.7 560.0 334.7 564.8 337.2 564.8 340.4 561.6 340.4 556.8 337.9ZM561.6 337.2 564.8 337.2 569.7 340.2 569.7 343.4 566.5 343.4 561.6 340.4ZM566.5 340.2 569.7 340.2 574.5 343.4 574.5 346.6 571.3 346.6 566.5 343.4ZM571.3 343.4 574.5 343.4 579.3 346.1 579.3 349.3 576.1 349.3 571.3 346.6ZM576.1 346.1 579.3 346.1 584.1 348.4 584.1 351.6 580.9 351.6 576.1 349.3ZM580.9 348.4 584.1 348.4 588.9 351.1 588.9 354.3 585.7 354.3 580.9 351.6ZM585.7 351.1 588.9 351.1 593.7 354.0 593.7 357.2 590.5 357.2 585.7 354.3ZM590.5 354.0 593.7 354.0 598.6 356.0 598.6 359.2 595.4 359.2 590.5 357.2ZM595.4 356.0 598.6 356.0 603.4 357.3 603.4 360.5 600.2 360.5 595.4 359.2ZM600.2 357.3 603.4 357.3 608.2 358.9 608.2 362.1 605.0 362.1 600.2 360.5ZM605.0 358.9 608.2 358.9 613.0 361.2 613.0 364.4 609.8 364.4 605.0 362.1ZM609.8 361.2 613.0 361.2 617.8 363.1 617.8 366.3 614.6 366.3 609.8 364.4ZM614.6 363.1 617.8 363.1 622.6 364.6 622.6 367.8 619.4 367.8 614.6 366.3ZM619.4 364.6 622.6 364.6 627.5 366.0 627.5 369.2 624.3 369.2 619.4 367.8ZM624.3 366.0 627.5 366.0 632.3 367.3 632.3 370.5 629.1 370.5 624.3 369.2ZM629.1 367.3 632.3 367.3 637.1 368.9 637.1 372.1 633.9 372.1 629.1 370.5ZM633.9 368.9 637.1 368.9 641.9 370.6 641.9 373.9 638.7 373.9 633.9 372.1ZM638.7 370.6 641.9 370.6 646.7 371.9 646.7 375.1 643.5 375.1 638.7 373.9ZM643.5 371.9 646.7 371.9 651.5 372.9 651.5 376.1 648.4 376.1 643.5 375.1ZM648.4 372.9 651.5 372.9 656.4 374.1 656.4 377.3 653.2 377.3 648.4 376.1ZM653.2 374.1 656.4 374.1 661.2 375.1 661.2 378.3 658.0 378.3 653.2 377.3ZM658.0 375.1 661.2 375.1 666.0 375.8 666.0 379.0 662.8 379.0 658.0 378.3ZM662.8 375.8 666.0 375.8 670.8 376.4 670.8 379.6 667.6 379.6 662.8 379.0ZM667.6 376.4 670.8 376.4 675.6 376.8 675.6 380.0 672.4 380.0 667.6 379.6ZM672.4 376.8 675.6 376.8 680.5 377.1 680.5 380.2 677.2 380.2 672.4 380.0ZM677.2 377.1 680.5 377.1 685.3 377.7 685.3 380.9 682.1 380.9 677.2 380.2ZM682.1 377.7 685.3 377.7 690.1 378.3 690.1 381.5 686.9 381.5 682.1 380.9ZM686.9 378.3 690.1 378.3 694.9 378.8 694.9 382.0 691.7 382.0 686.9 381.5Z" fill="#fa0505" clip-path="url(#cp)"/>
<rect x="256.8" y="362.1" width="4.7" height="24.9" fill="#0000f2"/>
<rect x="256.8" y="250.0" width="4.7" height="112.2" fill="#2bbfe0"/>
<rect x="256.8" y="165.1" width="4.7" height="84.9" fill="#08f208"/>
<rect x="256.8" y="122.9" width="4.7" height="42.1" fill="#ff9a0a"/>
<rect x="256.8" y="101.7" width="4.7" height="21.2" fill="#fa0505"/>
<rect x="256.8" y="83.8" width="4.7" height="17.9" fill="#000"/>
<path d="M115.2 83.8V394.0M108.5 387.0H693.3M163.3 387.0V394.0M212.2 387.0V394.0M259.4 387.0V394.0M307.2 387.0V394.0M355.7 387.0V394.0M403.9 387.0V394.0M452.5 387.0V394.0M501.0 387.0V394.0M547.6 387.0V394.0M596.2 387.0V394.0M644.7 387.0V394.0M693.2 387.0V394.0M108.5 357.2H115.2M108.5 326.7H115.2M108.5 296.0H115.2M108.5 266.1H115.2M108.5 235.8H115.2M108.5 205.0H115.2M108.5 174.9H115.2M108.5 144.8H115.2M108.5 114.0H115.2M108.5 83.8H115.2" stroke="#000" stroke-width="1.3" fill="none"/>
<path d="M343.1 386.7H426.4" stroke="#00006e" stroke-width="2" fill="none"/>
<path d="M475.1 386.7H519.9" stroke="#0a2838" stroke-width="2" fill="none"/>
<path d="M590.2 386.7H621.0" stroke="#1c3a10" stroke-width="2" fill="none"/>
<text transform="translate(99.5 395.1) scale(1 1.09)" font-size="19.5" text-anchor="end">0%</text>
<text transform="translate(99.5 365.3) scale(1 1.09)" font-size="19.5" text-anchor="end">10%</text>
<text transform="translate(99.5 334.8) scale(1 1.09)" font-size="19.5" text-anchor="end">20%</text>
<text transform="translate(99.5 304.1) scale(1 1.09)" font-size="19.5" text-anchor="end">30%</text>
<text transform="translate(99.5 274.2) scale(1 1.09)" font-size="19.5" text-anchor="end">40%</text>
<text transform="translate(99.5 243.9) scale(1 1.09)" font-size="19.5" text-anchor="end">50%</text>
<text transform="translate(99.5 213.1) scale(1 1.09)" font-size="19.5" text-anchor="end">60%</text>
<text transform="translate(99.5 183.0) scale(1 1.09)" font-size="19.5" text-anchor="end">70%</text>
<text transform="translate(99.5 152.9) scale(1 1.09)" font-size="19.5" text-anchor="end">80%</text>
<text transform="translate(99.5 122.1) scale(1 1.09)" font-size="19.5" text-anchor="end">90%</text>
<text transform="translate(99.5 91.9) scale(1 1.09)" font-size="19.5" text-anchor="end">100%</text>
<text transform="translate(115.2 423.1) scale(1 1.09)" font-size="19.5" text-anchor="middle">0</text>
<text transform="translate(163.3 423.1) scale(1 1.09)" font-size="19.5" text-anchor="middle">10</text>
<text transform="translate(212.2 423.1) scale(1 1.09)" font-size="19.5" text-anchor="middle">20</text>
<text transform="translate(259.4 423.1) scale(1 1.09)" font-size="19.5" text-anchor="middle">30</text>
<text transform="translate(307.2 423.1) scale(1 1.09)" font-size="19.5" text-anchor="middle">40</text>
<text transform="translate(355.7 423.1) scale(1 1.09)" font-size="19.5" text-anchor="middle">50</text>
<text transform="translate(403.9 423.1) scale(1 1.09)" font-size="19.5" text-anchor="middle">60</text>
<text transform="translate(452.5 423.1) scale(1 1.09)" font-size="19.5" text-anchor="middle">70</text>
<text transform="translate(501.0 423.1) scale(1 1.09)" font-size="19.5" text-anchor="middle">80</text>
<text transform="translate(547.6 423.1) scale(1 1.09)" font-size="19.5" text-anchor="middle">90</text>
<text transform="translate(596.2 423.1) scale(1 1.09)" font-size="19.5" text-anchor="middle">100</text>
<text transform="translate(644.7 423.1) scale(1 1.09)" font-size="19.5" text-anchor="middle">110</text>
<text transform="translate(693.2 423.1) scale(1 1.09)" font-size="19.5" text-anchor="middle">120</text>
<text transform="translate(403.3 454.4) scale(1 1.04)" font-size="19" font-weight="bold" text-anchor="middle" fill="#000">Alter [Jahre]</text>
<text transform="translate(35 234.2) rotate(-90) scale(1 1.05)" font-size="19.35" font-weight="bold" text-anchor="middle" fill="#000">Wahrscheinlichkeit</text>
<rect x="118.8" y="302.3" width="96.2" height="20.7" fill="#fff" stroke="#000" stroke-width="1.4"/>
<text x="166.9" y="317.8" font-size="15" text-anchor="middle" letter-spacing="0" fill="#000" stroke="#000" stroke-width="0.2">schadensfrei</text>
<rect x="213.8" y="258.8" width="40.0" height="19.7" fill="#fff" stroke="#000" stroke-width="1.4"/>
<text x="216.4" y="273.1" font-size="14" letter-spacing="-0.9" fill="#000" stroke="#000" stroke-width="0.2">SBK1</text>
<rect x="275.8" y="243.7" width="41.7" height="17.8" fill="#fff" stroke="#000" stroke-width="1.4"/>
<text x="278.0" y="257.4" font-size="14" letter-spacing="-0.9" fill="#000" stroke="#000" stroke-width="0.2">SBK2</text>
<rect x="339.5" y="243.7" width="40.0" height="17.8" fill="#fff" stroke="#000" stroke-width="1.4"/>
<text x="341.7" y="257.4" font-size="14" letter-spacing="-0.9" fill="#000" stroke="#000" stroke-width="0.2">SBK3</text>
<rect x="405.0" y="243.7" width="41.3" height="17.8" fill="#fff" stroke="#000" stroke-width="1.4"/>
<text x="407.2" y="257.4" font-size="14" letter-spacing="-0.9" fill="#000" stroke="#000" stroke-width="0.2">SBK4</text>
<rect x="506.3" y="239.6" width="133.1" height="22.7" fill="#fff" stroke="#000" stroke-width="1.4"/>
<text x="572.9" y="254.5" font-size="15" text-anchor="middle" letter-spacing="0" fill="#000" stroke="#000" stroke-width="0.2">endgültiger Ausfall</text>
</svg></body></html>
